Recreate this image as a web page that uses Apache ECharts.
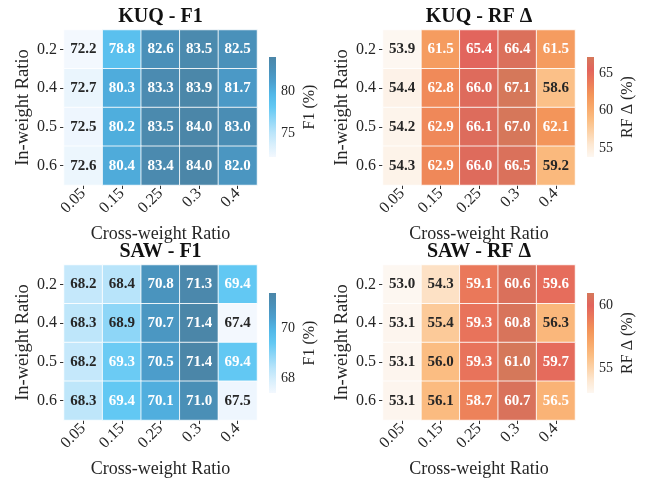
<!DOCTYPE html>
<html>
<head>
<meta charset="utf-8">
<script src="https://cdn.jsdelivr.net/npm/echarts@6/dist/echarts.min.js"></script>
<style>html,body{margin:0;padding:0;background:#fff}#c{width:645px;height:483px}</style>
</head>
<body>
<div id="c"></div>
<script>
// ---- data ----
const crossRatios = ['0.05', '0.15', '0.25', '0.3', '0.4'];
const inRatios = ['0.2', '0.4', '0.5', '0.6'];

// rows = in-weight ratio, cols = cross-weight ratio
const kuqF1 = [
  [72.2, 78.8, 82.6, 83.5, 82.5],
  [72.7, 80.3, 83.3, 83.9, 81.7],
  [72.5, 80.2, 83.5, 84.0, 83.0],
  [72.6, 80.4, 83.4, 84.0, 82.0]
];
const kuqRF = [
  [53.9, 61.5, 65.4, 66.4, 61.5],
  [54.4, 62.8, 66.0, 67.1, 58.6],
  [54.2, 62.9, 66.1, 67.0, 62.1],
  [54.3, 62.9, 66.0, 66.5, 59.2]
];
const sawF1 = [
  [68.2, 68.4, 70.8, 71.3, 69.4],
  [68.3, 68.9, 70.7, 71.4, 67.4],
  [68.2, 69.3, 70.5, 71.4, 69.4],
  [68.3, 69.4, 70.1, 71.0, 67.5]
];
const sawRF = [
  [53.0, 54.3, 59.1, 60.6, 59.6],
  [53.1, 55.4, 59.3, 60.8, 56.3],
  [53.1, 56.0, 59.3, 61.0, 59.7],
  [53.1, 56.1, 58.7, 60.7, 56.5]
];

const titles = ['KUQ - F1', 'KUQ - RF Δ', 'SAW - F1', 'SAW - RF Δ'];
const cbarNames = ['F1 (%)', 'RF Δ (%)', 'F1 (%)', 'RF Δ (%)'];
const cbarTicks = [[75, 80], [55, 60, 65], [68, 70], [55, 60]];

// ---- styles ----
const blueCmap = ['#f3f8fe', '#d8effc', '#b8e4fa', '#8ed6f7', '#62c8f3', '#52b8e8', '#4ca0cf', '#4a91ba', '#4b86a8'];
const orangeCmap = ['#fdf7f1', '#fde8d2', '#fcd2a8', '#fbbd82', '#f8a86a', '#f39459', '#eb7a5a', '#e2645d', '#d5785a'];
const FONT = 'Liberation Serif';
const TXT = '#262626';

const panels = [
  {data: kuqF1, cmap: blueCmap, grid: {left: 64, top: 30, width: 193, height: 155}, cbar: {left: 269, top: 57, width: 7, height: 100}},
  {data: kuqRF, cmap: orangeCmap, grid: {left: 383, top: 30, width: 192, height: 155}, cbar: {left: 587, top: 57, width: 7, height: 100}},
  {data: sawF1, cmap: blueCmap, grid: {left: 64, top: 265, width: 193, height: 155}, cbar: {left: 269, top: 293, width: 7, height: 100}},
  {data: sawRF, cmap: orangeCmap, grid: {left: 383, top: 265, width: 192, height: 155}, cbar: {left: 587, top: 293, width: 7, height: 100}}
];

const grids = [], xAxes = [], yAxes = [], series = [], visualMaps = [], graphics = [];

panels.forEach((p, i) => {
  const flat = p.data.flat();
  const vmin = Math.min(...flat), vmax = Math.max(...flat);
  const cells = [];
  p.data.forEach((row, r) => row.forEach((v, c) => {
    const t = (v - vmin) / (vmax - vmin);
    cells.push({value: [c, r, v], label: {color: t > 0.42 ? '#ffffff' : TXT}});
  }));

  // heatmap grid
  grids.push(p.grid);
  const gi = grids.length - 1;
  xAxes.push({
    type: 'category', gridIndex: gi, data: crossRatios,
    axisLine: {show: false},
    axisTick: {show: true, alignWithLabel: true, length: 4, lineStyle: {color: '#333'}},
    axisLabel: {rotate: 45, fontFamily: FONT, fontSize: 16, color: TXT, margin: 6},
    name: 'Cross-weight Ratio', nameLocation: 'middle', nameGap: 40,
    nameTextStyle: {fontFamily: FONT, fontSize: 18, color: TXT},
    splitLine: {show: false}
  });
  yAxes.push({
    type: 'category', gridIndex: gi, data: inRatios, inverse: true,
    axisLine: {show: false},
    axisTick: {show: true, alignWithLabel: true, length: 4, lineStyle: {color: '#333'}},
    axisLabel: {fontFamily: FONT, fontSize: 16, color: TXT, margin: 7},
    name: 'In-weight Ratio', nameLocation: 'middle', nameGap: 30,
    nameTextStyle: {fontFamily: FONT, fontSize: 18.5, color: TXT},
    splitLine: {show: false}
  });
  series.push({
    type: 'heatmap', xAxisIndex: gi, yAxisIndex: gi, data: cells,
    itemStyle: {borderColor: 'rgba(255,255,255,0.85)', borderWidth: 1},
    label: {show: true, fontFamily: FONT, fontWeight: 'bold', fontSize: 15,
      formatter: (d) => d.value[2].toFixed(1)},
    emphasis: {disabled: true}
  });
  visualMaps.push({
    type: 'continuous', show: false, seriesIndex: series.length - 1, dimension: 2,
    min: vmin, max: vmax, inRange: {color: p.cmap}
  });

  // colorbar grid
  grids.push(p.cbar);
  const ci = grids.length - 1;
  xAxes.push({type: 'value', gridIndex: ci, show: false, min: 0, max: 1});
  yAxes.push({
    type: 'value', gridIndex: ci, min: vmin, max: vmax, position: 'right',
    axisLine: {show: false}, splitLine: {show: false},
    axisTick: {show: true, length: 4, customValues: cbarTicks[i], lineStyle: {color: '#333'}},
    axisLabel: {fontFamily: FONT, fontSize: 14, color: TXT, margin: 5, customValues: cbarTicks[i]},
    name: cbarNames[i], nameLocation: 'middle', nameGap: 26, nameRotate: 90,
    nameTextStyle: {fontFamily: FONT, fontSize: 16, color: TXT}
  });
  const stops = p.cmap.map((col, k) => ({offset: k / (p.cmap.length - 1), color: col}));
  series.push({
    type: 'custom', xAxisIndex: ci, yAxisIndex: ci, data: [[0, vmin]], silent: true,
    renderItem: (params, api) => {
      const cs = params.coordSys;
      return {
        type: 'rect',
        shape: {x: cs.x, y: cs.y, width: cs.width, height: cs.height},
        style: {fill: new echarts.graphic.LinearGradient(0, 1, 0, 0, stops)}
      };
    }
  });

  // title
  graphics.push({
    type: 'text', x: p.grid.left + p.grid.width / 2, y: p.grid.top - 13,
    style: {text: titles[i], font: 'bold 20px "Liberation Serif"', fill: '#111', textAlign: 'center', textVerticalAlign: 'middle'}
  });
});

const chart = echarts.init(document.getElementById('c'), null, {renderer: 'canvas'});
chart.setOption({
  backgroundColor: '#fff',
  animation: false,
  grid: grids, xAxis: xAxes, yAxis: yAxes,
  visualMap: visualMaps, series: series, graphic: graphics
});
</script>
</body>
</html>
